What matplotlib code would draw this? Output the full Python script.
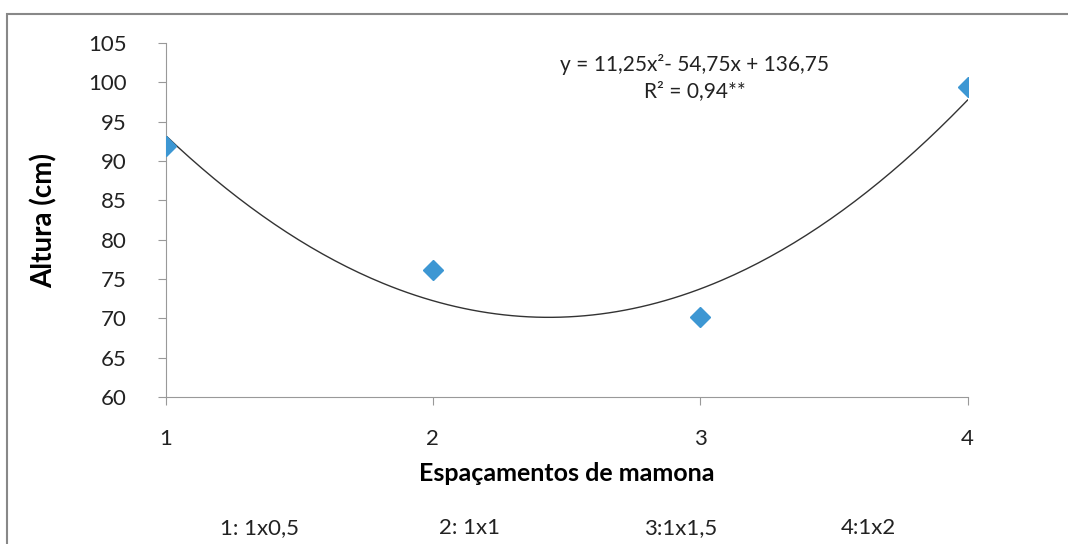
import numpy as np
import matplotlib
matplotlib.use("Agg")
import matplotlib.pyplot as plt
from matplotlib.patches import Rectangle

# data
espacamento = [1, 2, 3, 4]
altura = [91.9, 76.1, 70.2, 99.4]
coef = [11.25, -54.75, 136.75]   # y = 11,25x² - 54,75x + 136,75
y_ticks = [60, 65, 70, 75, 80, 85, 90, 95, 100, 105]
rotulos = ["1: 1x0,5", "2: 1x1", "3:1x1,5", "4:1x2"]

plt.rcParams['font.family'] = ['Lato', 'DejaVu Sans']

fig = plt.figure(figsize=(10.68, 5.44), dpi=100)
ax = fig.add_axes([0.155, 0.270, 0.751, 0.651])

# trendline from the equation
xs = np.linspace(1, 4, 200)
ax.plot(xs, np.polyval(coef, xs), color='#333333', lw=1.0, zorder=2)
ax.plot(espacamento, altura, 'D', color='#3d97d3', ms=10, mec='#3d97d3', zorder=3)

ax.set_xlim(1, 4)
ax.set_ylim(60, 105)
ax.set_xticks(espacamento)
ax.set_yticks(y_ticks)
ax.tick_params(axis='both', labelsize=16, color='#999999', length=6, labelcolor='#222222')
ax.tick_params(axis='y', pad=22)
ax.tick_params(axis='x', pad=17)
for s in ['top', 'right']:
    ax.spines[s].set_visible(False)
for s in ['left', 'bottom']:
    ax.spines[s].set_color('#999999')

ax.set_ylabel('Altura (cm)', fontsize=20, fontweight='bold', labelpad=22)
ax.set_xlabel('Espaçamentos de mamona', fontsize=18, fontweight='bold', labelpad=9)

ax.text(0.66, 0.94, 'y = 11,25x²- 54,75x + 136,75', transform=ax.transAxes,
        ha='center', va='center', fontsize=15, color='#222222')
ax.text(0.66, 0.865, 'R² = 0,94**', transform=ax.transAxes,
        ha='center', va='center', fontsize=15, color='#222222')

# spacing legend under the x label
for xpos, txt in zip([0.243, 0.44, 0.637, 0.813], rotulos):
    fig.text(xpos, 0.03, txt, ha='center', va='center', fontsize=16, color='#222222')

# outer chart border
fig.patches.append(Rectangle((0.007, -0.05), 1.2, 1.024, transform=fig.transFigure,
                             fill=False, edgecolor='#888888', lw=1.5))

fig.savefig('out.png', dpi=100)
